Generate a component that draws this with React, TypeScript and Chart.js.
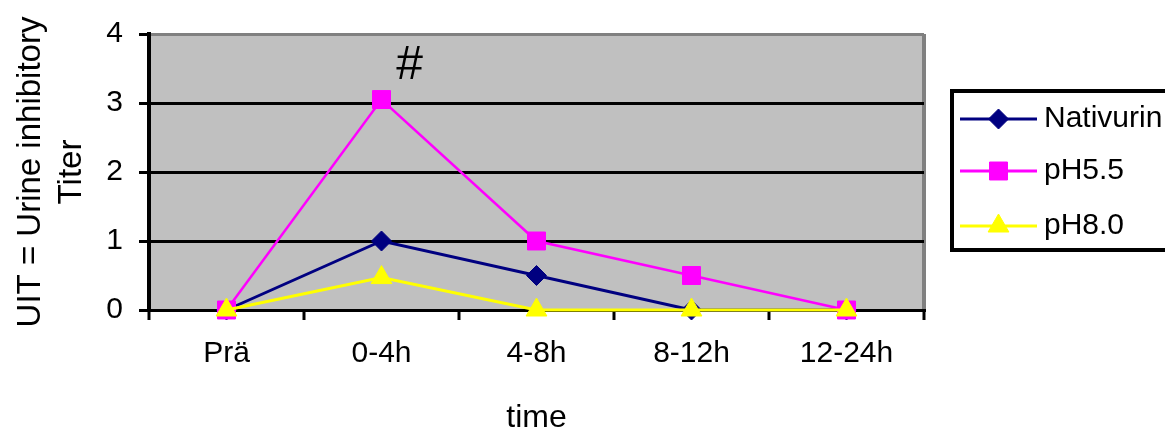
import React, { useEffect, useRef } from 'react';
import { Chart, registerables } from 'chart.js';

Chart.register(...registerables);

// ---- data ----
const categories = ['Prä', '0-4h', '4-8h', '8-12h', '12-24h'];
const nativurin = [0, 1, 0.5, 0, 0];
const ph55 = [0, 3.05, 1, 0.5, 0];
const ph80 = [0, 0.47, 0, 0, 0];
const seriesNames = ['Nativurin', 'pH5.5', 'pH8.0'];
const yMin = 0;
const yMax = 4;
const yStep = 1;
const yTitle = ['UIT = Urine inhibitory', 'Titer'];
const xTitle = 'time';
const annotationText = '#';
const annotationIndex = 1;
const annotationValue = 3.35;

const FONT = "'Liberation Sans', Arial, Helvetica, sans-serif";
const NAVY = '#000080';
const MAGENTA = '#FF00FF';
const YELLOW = '#FFFF00';
const PLOT_BG = '#C0C0C0';
const FRAME = '#808080';

function drawMarker(ctx: CanvasRenderingContext2D, style: string, r: number, x: number, y: number) {
  ctx.beginPath();
  if (style === 'rect') {
    const s = Math.SQRT1_2 * r;
    ctx.rect(x - s, y - s, 2 * s, 2 * s);
  } else if (style === 'rectRot') {
    ctx.moveTo(x, y - r);
    ctx.lineTo(x + r, y);
    ctx.lineTo(x, y + r);
    ctx.lineTo(x - r, y);
    ctx.closePath();
  } else if (style === 'triangle') {
    let rad = 0;
    ctx.moveTo(x + Math.sin(rad) * r, y - Math.cos(rad) * r);
    rad += (2 * Math.PI) / 3;
    ctx.lineTo(x + Math.sin(rad) * r, y - Math.cos(rad) * r);
    rad += (2 * Math.PI) / 3;
    ctx.lineTo(x + Math.sin(rad) * r, y - Math.cos(rad) * r);
    ctx.closePath();
  } else {
    ctx.arc(x, y, r, 0, Math.PI * 2);
  }
  ctx.fill();
  ctx.stroke();
}

const plotBgPlugin = {
  id: 'plotBg',
  beforeDraw(chart: any) {
    const { ctx, chartArea } = chart;
    ctx.save();
    ctx.fillStyle = PLOT_BG;
    ctx.fillRect(chartArea.left, chartArea.top, chartArea.right - chartArea.left, chartArea.bottom - chartArea.top);
    ctx.restore();
  },
};

const annotationPlugin = {
  id: 'hashNote',
  afterDatasetsDraw(chart: any) {
    const { ctx, scales } = chart;
    const x = scales.x.getPixelForValue(annotationIndex) + 28;
    const y = scales.y.getPixelForValue(annotationValue);
    ctx.save();
    ctx.fillStyle = '#000';
    ctx.font = `48px ${FONT}`;
    ctx.textAlign = 'center';
    ctx.textBaseline = 'alphabetic';
    ctx.fillText(annotationText, x, y);
    ctx.restore();
  },
};

const boxLegendPlugin = {
  id: 'boxLegend',
  afterDraw(chart: any) {
    const { ctx, chartArea } = chart;
    const boxLeft = chartArea.right + 28;
    const boxTop = 91;
    const boxBottom = 250;
    ctx.save();
    ctx.strokeStyle = '#000';
    ctx.lineWidth = 4;
    ctx.strokeRect(boxLeft, boxTop, 260, boxBottom - boxTop);
    const rows = [119, 171, 226];
    chart.data.datasets.forEach((ds: any, i: number) => {
      const y = rows[i];
      const x1 = boxLeft + 8;
      const x2 = boxLeft + 85;
      ctx.strokeStyle = ds.borderColor;
      ctx.lineWidth = 3;
      ctx.beginPath();
      ctx.moveTo(x1, y);
      ctx.lineTo(x2, y);
      ctx.stroke();
      ctx.fillStyle = ds.pointBackgroundColor;
      ctx.strokeStyle = ds.pointBorderColor;
      ctx.lineWidth = 1;
      drawMarker(ctx, ds.pointStyle, ds.pointRadius, (x1 + x2) / 2, y);
      ctx.fillStyle = '#000';
      ctx.font = `30px ${FONT}`;
      ctx.textAlign = 'left';
      ctx.textBaseline = 'middle';
      ctx.fillText(ds.label, x2 + 7, y);
    });
    ctx.restore();
  },
};

export default function App() {
  const ref = useRef<HTMLCanvasElement | null>(null);

  useEffect(() => {
    if (!ref.current) return;
    const mk = (label: string, data: number[], color: string, style: string, r: number, bw: number, order: number) => ({
      label,
      data,
      borderColor: color,
      backgroundColor: color,
      pointBackgroundColor: color,
      pointBorderColor: color,
      pointBorderWidth: 1,
      pointStyle: style,
      pointRadius: r,
      borderWidth: bw,
      tension: 0,
      clip: false as any,
      order,
    });
    const chart = new Chart(ref.current, {
      type: 'line',
      data: {
        labels: categories,
        datasets: [
          mk(seriesNames[0], nativurin, NAVY, 'rectRot', 10, 3, 3),
          mk(seriesNames[1], ph55, MAGENTA, 'rect', 12.7, 2.5, 2),
          mk(seriesNames[2], ph80, YELLOW, 'triangle', 12, 3, 1),
        ] as any,
      },
      options: {
        responsive: false,
        animation: false,
        layout: { padding: { top: 31, right: 241, left: 0, bottom: 0 } },
        plugins: {
          legend: { display: false },
          tooltip: { enabled: false },
        },
        scales: {
          x: {
            offset: true,
            afterFit: (s: any) => {
              s.height = 120;
            },
            grid: {
              offset: true,
              color: (c: any) => (c.type === 'tick' ? 'rgba(0,0,0,0)' : FRAME),
              lineWidth: 4,
              tickColor: '#000',
              tickWidth: 3,
              tickLength: 10,
              drawTicks: true,
            },
            border: { display: true, color: '#000', width: 3 },
            ticks: {
              color: '#000',
              font: { family: FONT, size: 30, lineHeight: 1.2 },
              padding: 16,
              maxRotation: 0,
              autoSkip: false,
            },
            title: {
              display: true,
              text: xTitle,
              color: '#000',
              font: { family: FONT, size: 32, lineHeight: 0.75 },
              padding: { top: 0, bottom: 0 },
            },
          },
          y: {
            min: yMin,
            max: yMax,
            afterFit: (s: any) => {
              s.width = 149;
            },
            grid: {
              color: (c: any) => (c.tick && c.tick.value === yMax ? FRAME : '#000'),
              lineWidth: 3,
              tickColor: '#000',
              tickWidth: 3,
              tickLength: 10,
              drawTicks: true,
            },
            border: { display: true, color: '#000', width: 4 },
            ticks: {
              stepSize: yStep,
              color: '#000',
              font: { family: FONT, size: 30, lineHeight: 1.2 },
              padding: 16,
            },
            title: {
              display: true,
              text: yTitle,
              color: '#000',
              font: { family: FONT, size: 33, lineHeight: 41 / 33 },
              padding: { top: 10, bottom: 0 },
            },
          },
        },
      },
      plugins: [plotBgPlugin, annotationPlugin, boxLegendPlugin],
    });
    return () => chart.destroy();
  }, []);

  return (
    <div style={{ position: 'absolute', left: 0, top: 0, width: 1165, height: 430, overflow: 'hidden', background: '#fff' }}>
      <canvas ref={ref} width={1165} height={430} style={{ display: 'block' }} />
    </div>
  );
}
